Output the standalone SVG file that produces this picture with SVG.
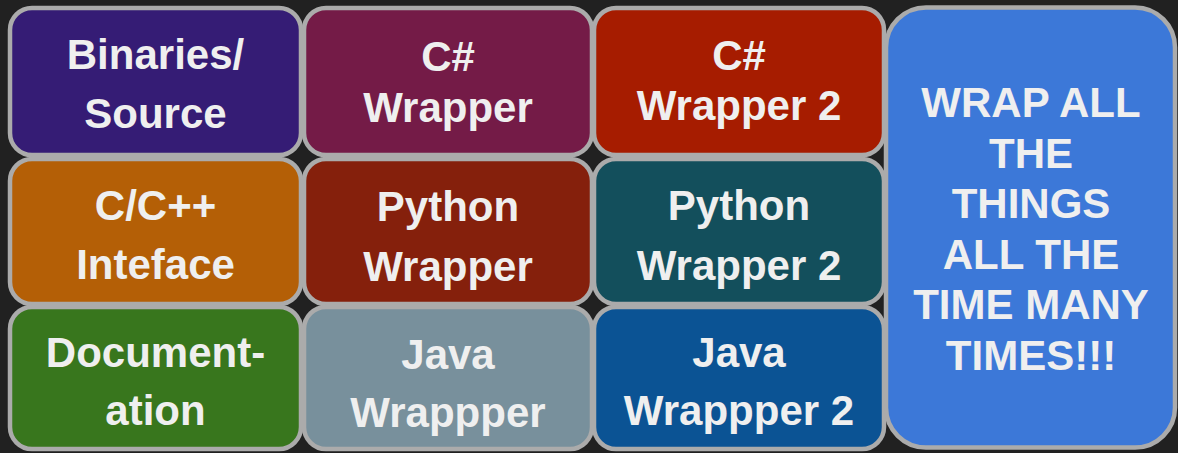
<svg xmlns="http://www.w3.org/2000/svg" width="1178" height="453" viewBox="0 0 1178 453">
<style>
.box{stroke:#ababab;stroke-width:4.5}
.t{font-family:"Liberation Sans",Arial,sans-serif;font-weight:bold;font-size:42px;fill:#efefef;text-anchor:middle}
</style>
<rect width="1178" height="453" fill="#212121"/>
<g id="binaries">
<rect class="box" x="10" y="8" width="291" height="147" rx="22" fill="#351c75"/>
<text class="t" x="155.5" y="69">Binaries/</text>
<text class="t" x="155.5" y="128">Source</text>
</g>
<g id="csharp">
<rect class="box" x="304" y="8" width="288" height="147" rx="22" fill="#741b47"/>
<text class="t" x="448" y="71">C#</text>
<text class="t" x="448" y="122">Wrapper</text>
</g>
<g id="csharp2">
<rect class="box" x="594" y="8" width="290" height="147" rx="22" fill="#a61c00"/>
<text class="t" x="739" y="70">C#</text>
<text class="t" x="739" y="120">Wrapper 2</text>
</g>
<g id="cinterface">
<rect class="box" x="10" y="159" width="291" height="145" rx="22" fill="#b45f06"/>
<text class="t" x="155.5" y="220">C/C++</text>
<text class="t" x="155.5" y="279">Inteface</text>
</g>
<g id="python">
<rect class="box" x="304" y="159" width="288" height="145" rx="22" fill="#85200c"/>
<text class="t" x="448" y="221">Python</text>
<text class="t" x="448" y="281">Wrapper</text>
</g>
<g id="python2">
<rect class="box" x="594" y="159" width="290" height="145" rx="22" fill="#134f5c"/>
<text class="t" x="739" y="220">Python</text>
<text class="t" x="739" y="280">Wrapper 2</text>
</g>
<g id="documentation">
<rect class="box" x="10" y="307" width="291" height="142" rx="22" fill="#38761d"/>
<text class="t" x="155.5" y="367">Document-</text>
<text class="t" x="155.5" y="425">ation</text>
</g>
<g id="java">
<rect class="box" x="304" y="307" width="288" height="142" rx="22" fill="#78909c"/>
<text class="t" x="448" y="369">Java</text>
<text class="t" x="448" y="427">Wrappper</text>
</g>
<g id="java2">
<rect class="box" x="594" y="307" width="290" height="142" rx="22" fill="#0b5394"/>
<text class="t" x="739" y="367">Java</text>
<text class="t" x="739" y="425">Wrappper 2</text>
</g>
<g id="wrapall">
<rect class="box" x="886" y="7.5" width="289" height="440" rx="40" fill="#3c78d8"/>
<text class="t" x="1031" y="117">WRAP ALL</text>
<text class="t" x="1031" y="167.5">THE</text>
<text class="t" x="1031" y="218">THINGS</text>
<text class="t" x="1031" y="268.5">ALL THE</text>
<text class="t" x="1031" y="319">TIME MANY</text>
<text class="t" x="1031" y="370">TIMES!!!</text>
</g>
<g id="connectors"/>
</svg>
